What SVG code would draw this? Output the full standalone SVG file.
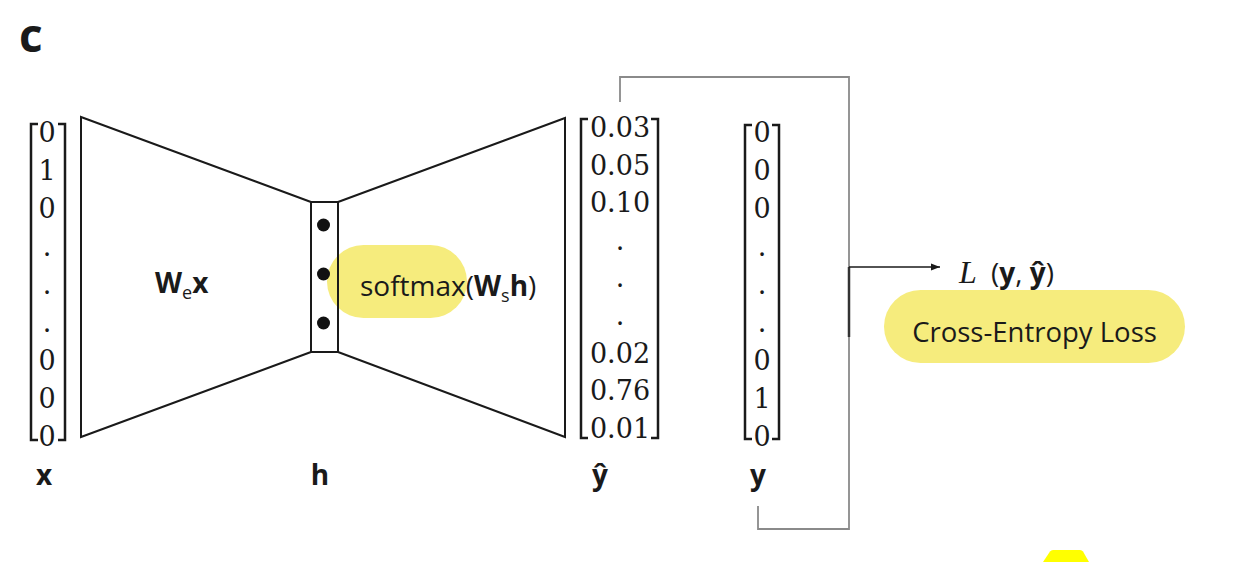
<svg xmlns="http://www.w3.org/2000/svg" width="1233" height="562" viewBox="0 0 1233 562">
<style>
.num{font-family:"DejaVu Serif","Liberation Serif",serif;font-size:27px;fill:#1a1a1a;text-anchor:middle}
.br{fill:none;stroke:#1a1a1a;stroke-width:2.5}
.shape{fill:none;stroke:#1a1a1a;stroke-width:2}
.sans{font-family:"Open Sans","Liberation Sans",sans-serif;fill:#1a1a1a}
.lbl{font-family:"Open Sans","Liberation Sans",sans-serif;font-weight:bold;font-size:28px;fill:#1a1a1a;text-anchor:middle}
.pill{fill:#F6EC7D}
.conn{fill:none;stroke:#8a8a8a;stroke-width:1.8}
</style>
<defs>
<marker id="arr" viewBox="0 0 10 10" refX="10" refY="5" markerWidth="9" markerHeight="9" markerUnits="userSpaceOnUse" orient="auto">
<path d="M0,1 L10,5 L0,9 Z" fill="#1a1a1a"/>
</marker>
</defs>
<rect width="1233" height="562" fill="#ffffff"/>

<g id="panel-label">
<text x="19" y="52" class="sans" font-size="46" font-weight="bold">c</text>
</g>

<g id="vec-x">
<path class="br" d="M38,124 H31 V440 H38"/>
<path class="br" d="M58,124 H65 V440 H58"/>
<text class="num" x="47" y="142">0</text>
<text class="num" x="47" y="180">1</text>
<text class="num" x="47" y="218">0</text>
<text class="num" x="47" y="256">.</text>
<text class="num" x="47" y="294">.</text>
<text class="num" x="47" y="332">.</text>
<text class="num" x="47" y="370">0</text>
<text class="num" x="47" y="408">0</text>
<text class="num" x="47" y="446">0</text>
<text class="lbl" x="44" y="485">x</text>
</g>

<g id="softmax-highlight">
<rect class="pill" x="327" y="245" width="140" height="73" rx="36.5"/>
</g>

<g id="encoder">
<polygon class="shape" points="81,117 311,202 311,352 81,437"/>
<text class="sans" x="155" y="293" font-size="28"><tspan font-weight="bold">W</tspan><tspan font-size="18" dy="6">e</tspan><tspan font-weight="bold" dy="-6">x</tspan></text>
</g>

<g id="hidden">
<rect class="shape" x="311" y="202" width="27" height="150"/>
<circle cx="323.5" cy="225" r="6.5" fill="#111"/>
<circle cx="323.5" cy="274" r="6.5" fill="#111"/>
<circle cx="323.5" cy="323" r="6.5" fill="#111"/>
<text class="lbl" x="320" y="485">h</text>
</g>

<g id="decoder">
<polygon class="shape" points="338,202 565,118 565,437 338,352"/>
<text class="sans" x="360" y="296" font-size="28">softmax(<tspan font-weight="bold">W</tspan><tspan font-size="18" dy="6">s</tspan><tspan font-weight="bold" dy="-6">h</tspan>)</text>
</g>

<g id="vec-yhat">
<path class="br" d="M588,119 H581 V438 H588"/>
<path class="br" d="M651,119 H658 V438 H651"/>
<text class="num" x="620" y="137">0.03</text>
<text class="num" x="620" y="174.6">0.05</text>
<text class="num" x="620" y="212.2">0.10</text>
<text class="num" x="620" y="249.8">.</text>
<text class="num" x="620" y="287.4">.</text>
<text class="num" x="620" y="325">.</text>
<text class="num" x="620" y="362.6">0.02</text>
<text class="num" x="620" y="400.2">0.76</text>
<text class="num" x="620" y="437.8">0.01</text>
<text class="lbl" x="600" y="485">ŷ</text>
</g>

<g id="vec-y">
<path class="br" d="M752,125 H745 V439 H752"/>
<path class="br" d="M772,125 H779 V439 H772"/>
<text class="num" x="762" y="142">0</text>
<text class="num" x="762" y="180">0</text>
<text class="num" x="762" y="218">0</text>
<text class="num" x="762" y="256">.</text>
<text class="num" x="762" y="294">.</text>
<text class="num" x="762" y="332">.</text>
<text class="num" x="762" y="370">0</text>
<text class="num" x="762" y="408">1</text>
<text class="num" x="762" y="446">0</text>
<text class="lbl" x="758" y="485">y</text>
</g>

<g id="connectors">
<path class="conn" d="M620,102 V77 H849 V529 H758 V506"/>
<path d="M849,267 V337" stroke="#333" stroke-width="2.5" fill="none"/>
<path d="M849,267 H940" stroke="#1a1a1a" stroke-width="1.5" fill="none" marker-end="url(#arr)"/>
</g>

<g id="loss">
<text x="959" y="283" font-family="Liberation Serif, DejaVu Serif, serif" font-style="italic" font-size="32" fill="#1a1a1a">L</text>
<text class="sans" x="991" y="283" font-size="28">(<tspan font-weight="bold">y</tspan>, <tspan font-weight="bold">ŷ</tspan>)</text>
<rect class="pill" x="884" y="290" width="301" height="73" rx="36.5"/>
<text class="sans" x="1034.5" y="342" font-size="27.5" text-anchor="middle">Cross-Entropy Loss</text>
</g>

<g id="yellow-mark">
<path d="M1043,562 L1050,551.5 Q1051,550 1053,550 L1080,550 Q1082,550 1083,551.5 L1089,562 Z" fill="#FFFF00"/>
</g>
</svg>
